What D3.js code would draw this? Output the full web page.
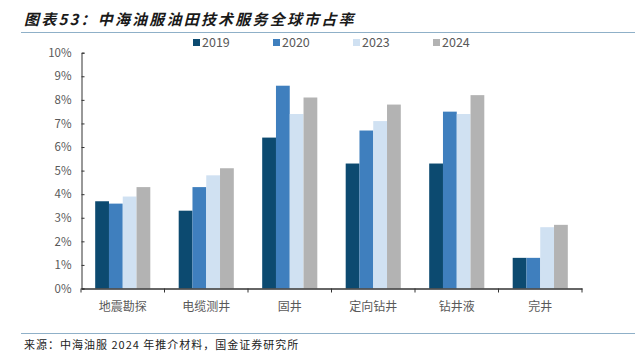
<!DOCTYPE html>
<html>
<head>
<meta charset="utf-8">
<script src="https://cdn.jsdelivr.net/npm/d3@7"></script>
<style>
  body { margin: 0; background: #fff; }
  text { font-family: "Noto Sans CJK SC", "Liberation Sans", Arial, sans-serif; }
</style>
</head>
<body>
<div class="chart"></div>
<script>
var categories = ["地震勘探", "电缆测井", "固井", "定向钻井", "钻井液", "完井"];
var years = ["2019", "2020", "2023", "2024"];
var s2019 = [3.7, 3.3, 6.4, 5.3, 5.3, 1.3];
var s2020 = [3.6, 4.3, 8.6, 6.7, 7.5, 1.3];
var s2023 = [3.9, 4.8, 7.4, 7.1, 7.4, 2.6];
var s2024 = [4.3, 5.1, 8.1, 7.8, 8.2, 2.7];
var yTicks = [0, 1, 2, 3, 4, 5, 6, 7, 8, 9, 10];

var series = [s2019, s2020, s2023, s2024];
var colors = ["#0c4a70", "#3f7fbe", "#d0e1f2", "#b3b3b3"];

var width = 635, height = 353;

var svg = d3.select(".chart")
            .append("svg")
            .attr("width", width)
            .attr("height", height);

// title + rules
svg.append("text")
   .text("图表53：中海油服油田技术服务全球市占率")
   .attr("x", 24)
   .attr("y", 25)
   .attr("font-size", "15px")
   .attr("font-weight", "bold")
   .attr("font-style", "italic")
   .attr("letter-spacing", "2.2px")
   .attr("fill", "#1a1a1a")

svg.append("line")
   .attr("x1", 21).attr("x2", 635)
   .attr("y1", 32.5).attr("y2", 32.5)
   .attr("stroke", "#8fb0c8")
   .attr("stroke-width", 1.2)

svg.append("line")
   .attr("x1", 21).attr("x2", 635)
   .attr("y1", 333.5).attr("y2", 333.5)
   .attr("stroke", "#8fb0c8")
   .attr("stroke-width", 1.2)

svg.append("text")
   .text("来源：中海油服 2024 年推介材料，国金证券研究所")
   .attr("x", 24)
   .attr("y", 349)
   .attr("font-size", "11px")
   .attr("letter-spacing", "1px")
   .attr("fill", "#222")

var x0 = d3.scaleBand()
           .domain(categories)
           .range([81, 582])
           .paddingInner(0.34)
           .paddingOuter(0.17);

var x1 = d3.scaleBand()
           .domain(years)
           .range([0, x0.bandwidth()]);

var y = d3.scaleLinear()
          .domain([0, 10])
          .range([288.5, 52.7]);

var groups = svg.selectAll("g.grp")
                .data(categories)
                .enter()
                .append("g")
                .attr("class", "grp")
                .attr("transform", function(d) {
                    return "translate(" + x0(d) + ",0)";
                });

groups.selectAll("rect")
      .data(function(d, i) {
          return years.map(function(yr, j) {
              return { year: yr, value: series[j][i], color: colors[j] };
          });
      })
      .enter()
      .append("rect")
      .attr("x", function(d) { return x1(d.year); })
      .attr("width", x1.bandwidth())
      .attr("y", function(d) { return y(d.value); })
      .attr("height", function(d) { return y(0) - y(d.value); })
      .attr("fill", function(d) { return d.color; })

// y axis
var yAxis = d3.axisLeft(y)
              .tickValues(yTicks)
              .tickSize(-3)
              .tickPadding(10)
              .tickFormat(function(d) { return d + "%"; });

var gy = svg.append("g")
            .attr("transform", "translate(81.5,0)")
            .call(yAxis);
gy.select(".domain").attr("stroke", "#333");
gy.selectAll(".tick line").attr("stroke", "#333");
gy.selectAll(".tick text")
  .attr("font-size", "11.5px")
  .attr("fill", "#595959")
  .attr("font-family", "Liberation Sans, Arial, sans-serif");

// x axis, ticks between groups
var xAxis = d3.axisBottom(x0).tickSize(0).tickPadding(14);
var gx = svg.append("g")
            .attr("transform", "translate(0," + y(0) + ")")
            .call(xAxis);
gx.select(".domain").attr("stroke", "#333").attr("stroke-width", 1.3);
gx.selectAll(".tick text")
  .attr("font-size", "12px")
  .attr("fill", "#595959");

var step = x0.step();
gx.selectAll("line.sep")
  .data(d3.range(categories.length + 1))
  .enter()
  .append("line")
  .attr("class", "sep")
  .attr("x1", function(i) { return 81 + i * step; })
  .attr("x2", function(i) { return 81 + i * step; })
  .attr("y1", 0).attr("y2", 4)
  .attr("stroke", "#333")

// legend
var legend = svg.selectAll("g.leg")
                .data(years)
                .enter()
                .append("g")
                .attr("class", "leg")
                .attr("transform", function(d, i) {
                    return "translate(" + (193 + i * 80) + ",39)";
                });

legend.append("rect")
      .attr("width", 7).attr("height", 7)
      .attr("fill", function(d, i) { return colors[i]; })

legend.append("text")
      .text(function(d) { return d; })
      .attr("x", 9)
      .attr("y", 7.5)
      .attr("font-size", "12.5px")
      .attr("fill", "#595959")
      .attr("font-family", "Liberation Sans, Arial, sans-serif")
</script>
</body>
</html>
